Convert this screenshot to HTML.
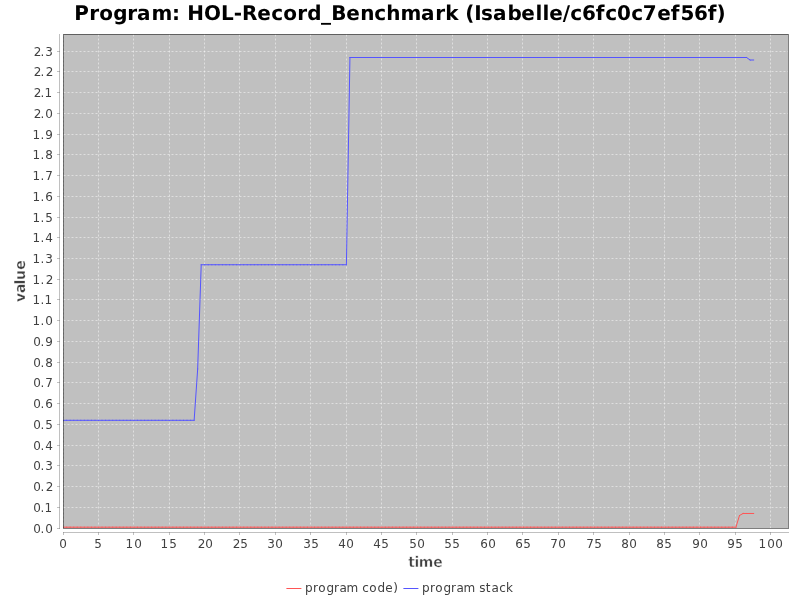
<!DOCTYPE html>
<html><head><meta charset="utf-8"><title>Program: HOL-Record_Benchmark</title>
<style>
html,body{margin:0;padding:0;background:#fff;}
body{width:800px;height:600px;overflow:hidden;}
svg{display:block;}
text{font-family:"DejaVu Sans","Liberation Sans",sans-serif;font-kerning:none;white-space:pre;}
</style></head><body>
<svg width="800" height="600" viewBox="0 0 800 600">
<rect width="800" height="600" fill="#fff"/>
<defs><clipPath id="da"><rect x="63.1" y="34.02" width="724.92" height="494.03"/></clipPath></defs>
<text transform="translate(74,20) scale(1,1.015)" x="0.16 15.26 25.13 39.23 53.26 63.11 77.54 98 106.02 113.13 130 146.98 159.85 168.08 183.27 197.31 209.13 223.26 233.23 247 257.16 272.27 286.32 300.31 312.32 326.54 347.11 361.26 371.32 384.02 391.37 400.28 407 419.11 433.45 447.27 461.57 468.57 475.27 488.85 496.31 507.96 521.87 531.31 543.04 557.31 568.67 583.27 596.87 606.47 619.96 633.87 642.49" y="0" font-weight="bold" font-size="20" fill="#000" text-rendering="geometricPrecision">Program: HOL-Record_Benchmark (Isabelle/c6fc0c7ef56f)</text>
<rect x="63.1" y="34.02" width="724.92" height="494.03" fill="#c0c0c0"/>
<g stroke="#808080" stroke-width="0.5" stroke-linecap="square" fill="none">
<line x1="59.5" y1="34.5" x2="59.5" y2="528.5"/>
<line x1="63.5" y1="532.5" x2="788.5" y2="532.5"/>
<line x1="63.5" y1="532.5" x2="63.5" y2="534.5"/>
<line x1="98.5" y1="532.5" x2="98.5" y2="534.5"/>
<line x1="133.5" y1="532.5" x2="133.5" y2="534.5"/>
<line x1="169.5" y1="532.5" x2="169.5" y2="534.5"/>
<line x1="204.5" y1="532.5" x2="204.5" y2="534.5"/>
<line x1="239.5" y1="532.5" x2="239.5" y2="534.5"/>
<line x1="275.5" y1="532.5" x2="275.5" y2="534.5"/>
<line x1="310.5" y1="532.5" x2="310.5" y2="534.5"/>
<line x1="346.5" y1="532.5" x2="346.5" y2="534.5"/>
<line x1="381.5" y1="532.5" x2="381.5" y2="534.5"/>
<line x1="416.5" y1="532.5" x2="416.5" y2="534.5"/>
<line x1="452.5" y1="532.5" x2="452.5" y2="534.5"/>
<line x1="487.5" y1="532.5" x2="487.5" y2="534.5"/>
<line x1="522.5" y1="532.5" x2="522.5" y2="534.5"/>
<line x1="558.5" y1="532.5" x2="558.5" y2="534.5"/>
<line x1="593.5" y1="532.5" x2="593.5" y2="534.5"/>
<line x1="629.5" y1="532.5" x2="629.5" y2="534.5"/>
<line x1="664.5" y1="532.5" x2="664.5" y2="534.5"/>
<line x1="699.5" y1="532.5" x2="699.5" y2="534.5"/>
<line x1="735.5" y1="532.5" x2="735.5" y2="534.5"/>
<line x1="770.5" y1="532.5" x2="770.5" y2="534.5"/>
<line x1="57.5" y1="528.5" x2="59.5" y2="528.5"/>
<line x1="57.5" y1="507.5" x2="59.5" y2="507.5"/>
<line x1="57.5" y1="486.5" x2="59.5" y2="486.5"/>
<line x1="57.5" y1="465.5" x2="59.5" y2="465.5"/>
<line x1="57.5" y1="445.5" x2="59.5" y2="445.5"/>
<line x1="57.5" y1="424.5" x2="59.5" y2="424.5"/>
<line x1="57.5" y1="403.5" x2="59.5" y2="403.5"/>
<line x1="57.5" y1="382.5" x2="59.5" y2="382.5"/>
<line x1="57.5" y1="362.5" x2="59.5" y2="362.5"/>
<line x1="57.5" y1="341.5" x2="59.5" y2="341.5"/>
<line x1="57.5" y1="320.5" x2="59.5" y2="320.5"/>
<line x1="57.5" y1="299.5" x2="59.5" y2="299.5"/>
<line x1="57.5" y1="279.5" x2="59.5" y2="279.5"/>
<line x1="57.5" y1="258.5" x2="59.5" y2="258.5"/>
<line x1="57.5" y1="237.5" x2="59.5" y2="237.5"/>
<line x1="57.5" y1="217.5" x2="59.5" y2="217.5"/>
<line x1="57.5" y1="196.5" x2="59.5" y2="196.5"/>
<line x1="57.5" y1="175.5" x2="59.5" y2="175.5"/>
<line x1="57.5" y1="154.5" x2="59.5" y2="154.5"/>
<line x1="57.5" y1="134.5" x2="59.5" y2="134.5"/>
<line x1="57.5" y1="113.5" x2="59.5" y2="113.5"/>
<line x1="57.5" y1="92.5" x2="59.5" y2="92.5"/>
<line x1="57.5" y1="71.5" x2="59.5" y2="71.5"/>
<line x1="57.5" y1="51.5" x2="59.5" y2="51.5"/>
</g>
<g clip-path="url(#da)">
<g stroke="#fff" stroke-width="0.5" stroke-dasharray="2,2" fill="none">
<line x1="63.5" y1="34.5" x2="63.5" y2="528.5"/>
<line x1="98.5" y1="34.5" x2="98.5" y2="528.5"/>
<line x1="133.5" y1="34.5" x2="133.5" y2="528.5"/>
<line x1="169.5" y1="34.5" x2="169.5" y2="528.5"/>
<line x1="204.5" y1="34.5" x2="204.5" y2="528.5"/>
<line x1="239.5" y1="34.5" x2="239.5" y2="528.5"/>
<line x1="275.5" y1="34.5" x2="275.5" y2="528.5"/>
<line x1="310.5" y1="34.5" x2="310.5" y2="528.5"/>
<line x1="346.5" y1="34.5" x2="346.5" y2="528.5"/>
<line x1="381.5" y1="34.5" x2="381.5" y2="528.5"/>
<line x1="416.5" y1="34.5" x2="416.5" y2="528.5"/>
<line x1="452.5" y1="34.5" x2="452.5" y2="528.5"/>
<line x1="487.5" y1="34.5" x2="487.5" y2="528.5"/>
<line x1="522.5" y1="34.5" x2="522.5" y2="528.5"/>
<line x1="558.5" y1="34.5" x2="558.5" y2="528.5"/>
<line x1="593.5" y1="34.5" x2="593.5" y2="528.5"/>
<line x1="629.5" y1="34.5" x2="629.5" y2="528.5"/>
<line x1="664.5" y1="34.5" x2="664.5" y2="528.5"/>
<line x1="699.5" y1="34.5" x2="699.5" y2="528.5"/>
<line x1="735.5" y1="34.5" x2="735.5" y2="528.5"/>
<line x1="770.5" y1="34.5" x2="770.5" y2="528.5"/>
<line x1="63.5" y1="528.5" x2="788.5" y2="528.5"/>
<line x1="63.5" y1="507.5" x2="788.5" y2="507.5"/>
<line x1="63.5" y1="486.5" x2="788.5" y2="486.5"/>
<line x1="63.5" y1="465.5" x2="788.5" y2="465.5"/>
<line x1="63.5" y1="445.5" x2="788.5" y2="445.5"/>
<line x1="63.5" y1="424.5" x2="788.5" y2="424.5"/>
<line x1="63.5" y1="403.5" x2="788.5" y2="403.5"/>
<line x1="63.5" y1="382.5" x2="788.5" y2="382.5"/>
<line x1="63.5" y1="362.5" x2="788.5" y2="362.5"/>
<line x1="63.5" y1="341.5" x2="788.5" y2="341.5"/>
<line x1="63.5" y1="320.5" x2="788.5" y2="320.5"/>
<line x1="63.5" y1="299.5" x2="788.5" y2="299.5"/>
<line x1="63.5" y1="279.5" x2="788.5" y2="279.5"/>
<line x1="63.5" y1="258.5" x2="788.5" y2="258.5"/>
<line x1="63.5" y1="237.5" x2="788.5" y2="237.5"/>
<line x1="63.5" y1="217.5" x2="788.5" y2="217.5"/>
<line x1="63.5" y1="196.5" x2="788.5" y2="196.5"/>
<line x1="63.5" y1="175.5" x2="788.5" y2="175.5"/>
<line x1="63.5" y1="154.5" x2="788.5" y2="154.5"/>
<line x1="63.5" y1="134.5" x2="788.5" y2="134.5"/>
<line x1="63.5" y1="113.5" x2="788.5" y2="113.5"/>
<line x1="63.5" y1="92.5" x2="788.5" y2="92.5"/>
<line x1="63.5" y1="71.5" x2="788.5" y2="71.5"/>
<line x1="63.5" y1="51.5" x2="788.5" y2="51.5"/>
</g>
<path stroke="#ff5555" stroke-width="1" stroke-linecap="square" fill="none" d="M63.1 527.2L66.64 527.2M66.64 527.2L70.18 527.2M70.18 527.2L73.72 527.2M73.72 527.2L77.26 527.2M77.26 527.2L80.81 527.2M80.81 527.2L84.35 527.2M84.35 527.2L87.89 527.2M87.89 527.2L91.43 527.2M91.43 527.2L94.97 527.2M94.97 527.2L98.51 527.2M98.51 527.2L102.05 527.2M102.05 527.2L105.59 527.2M105.59 527.2L109.14 527.2M109.14 527.2L112.68 527.2M112.68 527.2L116.22 527.2M116.22 527.2L119.76 527.2M119.76 527.2L123.3 527.2M123.3 527.2L126.84 527.2M126.84 527.2L130.38 527.2M130.38 527.2L133.92 527.2M133.92 527.2L137.47 527.2M137.47 527.2L141.01 527.2M141.01 527.2L144.55 527.2M144.55 527.2L148.09 527.2M148.09 527.2L151.63 527.2M151.63 527.2L155.17 527.2M155.17 527.2L158.71 527.2M158.71 527.2L162.25 527.2M162.25 527.2L165.8 527.2M165.8 527.2L169.34 527.2M169.34 527.2L172.88 527.2M172.88 527.2L176.42 527.2M176.42 527.2L179.96 527.2M179.96 527.2L183.5 527.2M183.5 527.2L187.04 527.2M187.04 527.2L190.58 527.2M190.58 527.2L194.13 527.2M194.13 527.2L197.67 527.2M197.67 527.2L201.21 527.2M201.21 527.2L204.75 527.2M204.75 527.2L208.29 527.2M208.29 527.2L211.83 527.2M211.83 527.2L215.37 527.2M215.37 527.2L218.91 527.2M218.91 527.2L222.46 527.2M222.46 527.2L226 527.2M226 527.2L229.54 527.2M229.54 527.2L233.08 527.2M233.08 527.2L236.62 527.2M236.62 527.2L240.16 527.2M240.16 527.2L243.7 527.2M243.7 527.2L247.24 527.2M247.24 527.2L250.79 527.2M250.79 527.2L254.33 527.2M254.33 527.2L257.87 527.2M257.87 527.2L261.41 527.2M261.41 527.2L264.95 527.2M264.95 527.2L268.49 527.2M268.49 527.2L272.03 527.2M272.03 527.2L275.57 527.2M275.57 527.2L279.12 527.2M279.12 527.2L282.66 527.2M282.66 527.2L286.2 527.2M286.2 527.2L289.74 527.2M289.74 527.2L293.28 527.2M293.28 527.2L296.82 527.2M296.82 527.2L300.36 527.2M300.36 527.2L303.9 527.2M303.9 527.2L307.45 527.2M307.45 527.2L310.99 527.2M310.99 527.2L314.53 527.2M314.53 527.2L318.07 527.2M318.07 527.2L321.61 527.2M321.61 527.2L325.15 527.2M325.15 527.2L328.69 527.2M328.69 527.2L332.23 527.2M332.23 527.2L335.78 527.2M335.78 527.2L339.32 527.2M339.32 527.2L342.86 527.2M342.86 527.2L346.4 527.2M346.4 527.2L349.94 527.2M349.94 527.2L353.48 527.2M353.48 527.2L357.02 527.2M357.02 527.2L360.56 527.2M360.56 527.2L364.11 527.2M364.11 527.2L367.65 527.2M367.65 527.2L371.19 527.2M371.19 527.2L374.73 527.2M374.73 527.2L378.27 527.2M378.27 527.2L381.81 527.2M381.81 527.2L385.35 527.2M385.35 527.2L388.89 527.2M388.89 527.2L392.44 527.2M392.44 527.2L395.98 527.2M395.98 527.2L399.52 527.2M399.52 527.2L403.06 527.2M403.06 527.2L406.6 527.2M406.6 527.2L410.14 527.2M410.14 527.2L413.68 527.2M413.68 527.2L417.22 527.2M417.22 527.2L420.77 527.2M420.77 527.2L424.31 527.2M424.31 527.2L427.85 527.2M427.85 527.2L431.39 527.2M431.39 527.2L434.93 527.2M434.93 527.2L438.47 527.2M438.47 527.2L442.01 527.2M442.01 527.2L445.55 527.2M445.55 527.2L449.1 527.2M449.1 527.2L452.64 527.2M452.64 527.2L456.18 527.2M456.18 527.2L459.72 527.2M459.72 527.2L463.26 527.2M463.26 527.2L466.8 527.2M466.8 527.2L470.34 527.2M470.34 527.2L473.88 527.2M473.88 527.2L477.43 527.2M477.43 527.2L480.97 527.2M480.97 527.2L484.51 527.2M484.51 527.2L488.05 527.2M488.05 527.2L491.59 527.2M491.59 527.2L495.13 527.2M495.13 527.2L498.67 527.2M498.67 527.2L502.21 527.2M502.21 527.2L505.76 527.2M505.76 527.2L509.3 527.2M509.3 527.2L512.84 527.2M512.84 527.2L516.38 527.2M516.38 527.2L519.92 527.2M519.92 527.2L523.46 527.2M523.46 527.2L527 527.2M527 527.2L530.54 527.2M530.54 527.2L534.09 527.2M534.09 527.2L537.63 527.2M537.63 527.2L541.17 527.2M541.17 527.2L544.71 527.2M544.71 527.2L548.25 527.2M548.25 527.2L551.79 527.2M551.79 527.2L555.33 527.2M555.33 527.2L558.87 527.2M558.87 527.2L562.42 527.2M562.42 527.2L565.96 527.2M565.96 527.2L569.5 527.2M569.5 527.2L573.04 527.2M573.04 527.2L576.58 527.2M576.58 527.2L580.12 527.2M580.12 527.2L583.66 527.2M583.66 527.2L587.2 527.2M587.2 527.2L590.75 527.2M590.75 527.2L594.29 527.2M594.29 527.2L597.83 527.2M597.83 527.2L601.37 527.2M601.37 527.2L604.91 527.2M604.91 527.2L608.45 527.2M608.45 527.2L611.99 527.2M611.99 527.2L615.53 527.2M615.53 527.2L619.08 527.2M619.08 527.2L622.62 527.2M622.62 527.2L626.16 527.2M626.16 527.2L629.7 527.2M629.7 527.2L633.24 527.2M633.24 527.2L636.78 527.2M636.78 527.2L640.32 527.2M640.32 527.2L643.86 527.2M643.86 527.2L647.41 527.2M647.41 527.2L650.95 527.2M650.95 527.2L654.49 527.2M654.49 527.2L658.03 527.2M658.03 527.2L661.57 527.2M661.57 527.2L665.11 527.2M665.11 527.2L668.65 527.2M668.65 527.2L672.19 527.2M672.19 527.2L675.74 527.2M675.74 527.2L679.28 527.2M679.28 527.2L682.82 527.2M682.82 527.2L686.36 527.2M686.36 527.2L689.9 527.2M689.9 527.2L693.44 527.2M693.44 527.2L696.98 527.2M696.98 527.2L700.52 527.2M700.52 527.2L704.07 527.2M704.07 527.2L707.61 527.2M707.61 527.2L711.15 527.2M711.15 527.2L714.69 527.2M714.69 527.2L718.23 527.2M718.23 527.2L721.77 527.2M721.77 527.2L725.31 527.2M725.31 527.2L728.85 527.2M728.85 527.2L732.4 527.2M732.4 527.2L735.94 527.2M735.94 527.2L739.48 515.51M739.48 515.51L743.02 513.49M743.02 513.49L746.56 513.49M746.56 513.49L750.1 513.49M750.1 513.49L753.64 513.49"/>
<path stroke="#5555ff" stroke-width="1" stroke-linecap="square" fill="none" d="M63.1 420.31L66.64 420.31M66.64 420.31L70.18 420.31M70.18 420.31L73.72 420.31M73.72 420.31L77.26 420.31M77.26 420.31L80.81 420.31M80.81 420.31L84.35 420.31M84.35 420.31L87.89 420.31M87.89 420.31L91.43 420.31M91.43 420.31L94.97 420.31M94.97 420.31L98.51 420.31M98.51 420.31L102.05 420.31M102.05 420.31L105.59 420.31M105.59 420.31L109.14 420.31M109.14 420.31L112.68 420.31M112.68 420.31L116.22 420.31M116.22 420.31L119.76 420.31M119.76 420.31L123.3 420.31M123.3 420.31L126.84 420.31M126.84 420.31L130.38 420.31M130.38 420.31L133.92 420.31M133.92 420.31L137.47 420.31M137.47 420.31L141.01 420.31M141.01 420.31L144.55 420.31M144.55 420.31L148.09 420.31M148.09 420.31L151.63 420.31M151.63 420.31L155.17 420.31M155.17 420.31L158.71 420.31M158.71 420.31L162.25 420.31M162.25 420.31L165.8 420.31M165.8 420.31L169.34 420.31M169.34 420.31L172.88 420.31M172.88 420.31L176.42 420.31M176.42 420.31L179.96 420.31M179.96 420.31L183.5 420.31M183.5 420.31L187.04 420.31M187.04 420.31L190.58 420.31M190.58 420.31L194.13 420.31M194.13 420.31L197.67 369.01M197.67 369.01L201.21 264.76M201.21 264.76L204.75 264.76M204.75 264.76L208.29 264.76M208.29 264.76L211.83 264.76M211.83 264.76L215.37 264.76M215.37 264.76L218.91 264.76M218.91 264.76L222.46 264.76M222.46 264.76L226 264.76M226 264.76L229.54 264.76M229.54 264.76L233.08 264.76M233.08 264.76L236.62 264.76M236.62 264.76L240.16 264.76M240.16 264.76L243.7 264.76M243.7 264.76L247.24 264.76M247.24 264.76L250.79 264.76M250.79 264.76L254.33 264.76M254.33 264.76L257.87 264.76M257.87 264.76L261.41 264.76M261.41 264.76L264.95 264.76M264.95 264.76L268.49 264.76M268.49 264.76L272.03 264.76M272.03 264.76L275.57 264.76M275.57 264.76L279.12 264.76M279.12 264.76L282.66 264.76M282.66 264.76L286.2 264.76M286.2 264.76L289.74 264.76M289.74 264.76L293.28 264.76M293.28 264.76L296.82 264.76M296.82 264.76L300.36 264.76M300.36 264.76L303.9 264.76M303.9 264.76L307.45 264.76M307.45 264.76L310.99 264.76M310.99 264.76L314.53 264.76M314.53 264.76L318.07 264.76M318.07 264.76L321.61 264.76M321.61 264.76L325.15 264.76M325.15 264.76L328.69 264.76M328.69 264.76L332.23 264.76M332.23 264.76L335.78 264.76M335.78 264.76L339.32 264.76M339.32 264.76L342.86 264.76M342.86 264.76L346.4 264.76M346.4 264.76L349.94 57.51M349.94 57.51L353.48 57.51M353.48 57.51L357.02 57.51M357.02 57.51L360.56 57.51M360.56 57.51L364.11 57.51M364.11 57.51L367.65 57.51M367.65 57.51L371.19 57.51M371.19 57.51L374.73 57.51M374.73 57.51L378.27 57.51M378.27 57.51L381.81 57.51M381.81 57.51L385.35 57.51M385.35 57.51L388.89 57.51M388.89 57.51L392.44 57.51M392.44 57.51L395.98 57.51M395.98 57.51L399.52 57.51M399.52 57.51L403.06 57.51M403.06 57.51L406.6 57.51M406.6 57.51L410.14 57.51M410.14 57.51L413.68 57.51M413.68 57.51L417.22 57.51M417.22 57.51L420.77 57.51M420.77 57.51L424.31 57.51M424.31 57.51L427.85 57.51M427.85 57.51L431.39 57.51M431.39 57.51L434.93 57.51M434.93 57.51L438.47 57.51M438.47 57.51L442.01 57.51M442.01 57.51L445.55 57.51M445.55 57.51L449.1 57.51M449.1 57.51L452.64 57.51M452.64 57.51L456.18 57.51M456.18 57.51L459.72 57.51M459.72 57.51L463.26 57.51M463.26 57.51L466.8 57.51M466.8 57.51L470.34 57.51M470.34 57.51L473.88 57.51M473.88 57.51L477.43 57.51M477.43 57.51L480.97 57.51M480.97 57.51L484.51 57.51M484.51 57.51L488.05 57.51M488.05 57.51L491.59 57.51M491.59 57.51L495.13 57.51M495.13 57.51L498.67 57.51M498.67 57.51L502.21 57.51M502.21 57.51L505.76 57.51M505.76 57.51L509.3 57.51M509.3 57.51L512.84 57.51M512.84 57.51L516.38 57.51M516.38 57.51L519.92 57.51M519.92 57.51L523.46 57.51M523.46 57.51L527 57.51M527 57.51L530.54 57.51M530.54 57.51L534.09 57.51M534.09 57.51L537.63 57.51M537.63 57.51L541.17 57.51M541.17 57.51L544.71 57.51M544.71 57.51L548.25 57.51M548.25 57.51L551.79 57.51M551.79 57.51L555.33 57.51M555.33 57.51L558.87 57.51M558.87 57.51L562.42 57.51M562.42 57.51L565.96 57.51M565.96 57.51L569.5 57.51M569.5 57.51L573.04 57.51M573.04 57.51L576.58 57.51M576.58 57.51L580.12 57.51M580.12 57.51L583.66 57.51M583.66 57.51L587.2 57.51M587.2 57.51L590.75 57.51M590.75 57.51L594.29 57.51M594.29 57.51L597.83 57.51M597.83 57.51L601.37 57.51M601.37 57.51L604.91 57.51M604.91 57.51L608.45 57.51M608.45 57.51L611.99 57.51M611.99 57.51L615.53 57.51M615.53 57.51L619.08 57.51M619.08 57.51L622.62 57.51M622.62 57.51L626.16 57.51M626.16 57.51L629.7 57.51M629.7 57.51L633.24 57.51M633.24 57.51L636.78 57.51M636.78 57.51L640.32 57.51M640.32 57.51L643.86 57.51M643.86 57.51L647.41 57.51M647.41 57.51L650.95 57.51M650.95 57.51L654.49 57.51M654.49 57.51L658.03 57.51M658.03 57.51L661.57 57.51M661.57 57.51L665.11 57.51M665.11 57.51L668.65 57.51M668.65 57.51L672.19 57.51M672.19 57.51L675.74 57.51M675.74 57.51L679.28 57.51M679.28 57.51L682.82 57.51M682.82 57.51L686.36 57.51M686.36 57.51L689.9 57.51M689.9 57.51L693.44 57.51M693.44 57.51L696.98 57.51M696.98 57.51L700.52 57.51M700.52 57.51L704.07 57.51M704.07 57.51L707.61 57.51M707.61 57.51L711.15 57.51M711.15 57.51L714.69 57.51M714.69 57.51L718.23 57.51M718.23 57.51L721.77 57.51M721.77 57.51L725.31 57.51M725.31 57.51L728.85 57.51M728.85 57.51L732.4 57.51M732.4 57.51L735.94 57.51M735.94 57.51L739.48 57.51M739.48 57.51L743.02 57.51M743.02 57.51L746.56 57.51M746.56 57.51L750.1 60M750.1 60L753.64 60"/>
</g>
<path d="M63 34H789V529H63ZM64 35V528H788V35Z" fill="#000" fill-opacity="0.5" shape-rendering="crispEdges"/>
<text transform="translate(59,548) scale(1,1.03)" x="0.19" y="0" font-size="12" fill="#404040">0</text>
<text transform="translate(94,548) scale(1,1.03)" x="0.24" y="0" font-size="12" fill="#404040">5</text>
<text transform="translate(126,548) scale(1,1.03)" x="-0.42 8.19" y="0" font-size="12" fill="#404040">10</text>
<text transform="translate(161,548) scale(1,1.03)" x="-0.42 8.24" y="0" font-size="12" fill="#404040">15</text>
<text transform="translate(197,548) scale(1,1.03)" x="0.84 8.19" y="0" font-size="12" fill="#404040">20</text>
<text transform="translate(232,548) scale(1,1.03)" x="0.84 8.24" y="0" font-size="12" fill="#404040">25</text>
<text transform="translate(267,548) scale(1,1.03)" x="0.21 8.19" y="0" font-size="12" fill="#404040">30</text>
<text transform="translate(303,548) scale(1,1.03)" x="0.21 8.24" y="0" font-size="12" fill="#404040">35</text>
<text transform="translate(338,548) scale(1,1.03)" x="0.23 8.19" y="0" font-size="12" fill="#404040">40</text>
<text transform="translate(373,548) scale(1,1.03)" x="0.23 8.24" y="0" font-size="12" fill="#404040">45</text>
<text transform="translate(409,548) scale(1,1.03)" x="0.24 8.19" y="0" font-size="12" fill="#404040">50</text>
<text transform="translate(444,548) scale(1,1.03)" x="0.24 8.24" y="0" font-size="12" fill="#404040">55</text>
<text transform="translate(480,548) scale(1,1.03)" x="0.14 8.19" y="0" font-size="12" fill="#404040">60</text>
<text transform="translate(515,548) scale(1,1.03)" x="0.14 8.24" y="0" font-size="12" fill="#404040">65</text>
<text transform="translate(550,548) scale(1,1.03)" x="0.2 8.19" y="0" font-size="12" fill="#404040">70</text>
<text transform="translate(586,548) scale(1,1.03)" x="0.2 8.24" y="0" font-size="12" fill="#404040">75</text>
<text transform="translate(621,548) scale(1,1.03)" x="0.19 8.19" y="0" font-size="12" fill="#404040">80</text>
<text transform="translate(656,548) scale(1,1.03)" x="0.19 8.24" y="0" font-size="12" fill="#404040">85</text>
<text transform="translate(692,548) scale(1,1.03)" x="0.23 8.19" y="0" font-size="12" fill="#404040">90</text>
<text transform="translate(727,548) scale(1,1.03)" x="0.23 8.24" y="0" font-size="12" fill="#404040">95</text>
<text transform="translate(759,548) scale(1,1.03)" x="-0.42 8.19 16.19" y="0" font-size="12" fill="#404040">100</text>
<text transform="translate(33,533) scale(1,1.03)" x="0.19 7.6 12.19" y="0" font-size="12" fill="#404040">0.0</text>
<text transform="translate(33,512) scale(1,1.03)" x="0.19 7.6 11.58" y="0" font-size="12" fill="#404040">0.1</text>
<text transform="translate(33,491) scale(1,1.03)" x="0.19 7.6 12.84" y="0" font-size="12" fill="#404040">0.2</text>
<text transform="translate(33,470) scale(1,1.03)" x="0.19 7.6 12.21" y="0" font-size="12" fill="#404040">0.3</text>
<text transform="translate(33,450) scale(1,1.03)" x="0.19 7.6 12.23" y="0" font-size="12" fill="#404040">0.4</text>
<text transform="translate(33,429) scale(1,1.03)" x="0.19 7.6 12.24" y="0" font-size="12" fill="#404040">0.5</text>
<text transform="translate(33,408) scale(1,1.03)" x="0.19 7.6 12.14" y="0" font-size="12" fill="#404040">0.6</text>
<text transform="translate(33,387) scale(1,1.03)" x="0.19 7.6 12.2" y="0" font-size="12" fill="#404040">0.7</text>
<text transform="translate(33,367) scale(1,1.03)" x="0.19 7.6 12.19" y="0" font-size="12" fill="#404040">0.8</text>
<text transform="translate(33,346) scale(1,1.03)" x="0.19 7.6 12.23" y="0" font-size="12" fill="#404040">0.9</text>
<text transform="translate(33,325) scale(1,1.03)" x="-0.42 7.6 12.19" y="0" font-size="12" fill="#404040">1.0</text>
<text transform="translate(33,304) scale(1,1.03)" x="-0.42 7.6 11.58" y="0" font-size="12" fill="#404040">1.1</text>
<text transform="translate(33,284) scale(1,1.03)" x="-0.42 7.6 12.84" y="0" font-size="12" fill="#404040">1.2</text>
<text transform="translate(33,263) scale(1,1.03)" x="-0.42 7.6 12.21" y="0" font-size="12" fill="#404040">1.3</text>
<text transform="translate(33,242) scale(1,1.03)" x="-0.42 7.6 12.23" y="0" font-size="12" fill="#404040">1.4</text>
<text transform="translate(33,222) scale(1,1.03)" x="-0.42 7.6 12.24" y="0" font-size="12" fill="#404040">1.5</text>
<text transform="translate(33,201) scale(1,1.03)" x="-0.42 7.6 12.14" y="0" font-size="12" fill="#404040">1.6</text>
<text transform="translate(33,180) scale(1,1.03)" x="-0.42 7.6 12.2" y="0" font-size="12" fill="#404040">1.7</text>
<text transform="translate(33,159) scale(1,1.03)" x="-0.42 7.6 12.19" y="0" font-size="12" fill="#404040">1.8</text>
<text transform="translate(33,139) scale(1,1.03)" x="-0.42 7.6 12.23" y="0" font-size="12" fill="#404040">1.9</text>
<text transform="translate(33,118) scale(1,1.03)" x="0.84 7.6 12.19" y="0" font-size="12" fill="#404040">2.0</text>
<text transform="translate(33,97) scale(1,1.03)" x="0.84 7.6 11.58" y="0" font-size="12" fill="#404040">2.1</text>
<text transform="translate(33,76) scale(1,1.03)" x="0.84 7.6 12.84" y="0" font-size="12" fill="#404040">2.2</text>
<text transform="translate(33,56) scale(1,1.03)" x="0.84 7.6 12.21" y="0" font-size="12" fill="#404040">2.3</text>
<text transform="translate(409,567) scale(1,1.05)" x="-0.78 5.6 9.68 24.29" y="0" font-weight="bold" font-size="14" fill="#404040" stroke="#fff" stroke-width="0.45" text-rendering="geometricPrecision">time</text>
<text transform="translate(25,302) rotate(-90) scale(1,1.03)" x="-0.07 9.03 17.6 22.06 32.29" y="0" font-weight="bold" font-size="14" fill="#404040" stroke="#fff" stroke-width="0.3" text-rendering="geometricPrecision">value</text>
<line x1="286.9" y1="588.5" x2="300.9" y2="588.5" stroke="#ff5555" stroke-width="1" stroke-linecap="square"/>
<text transform="translate(305,592)" x="-0.03 7.99 13.33 21.41 28.99 34.51 41.62 53.09 57.24 64.33 72.41 80.3 88.19" y="0" font-size="12" fill="#404040">program code)</text>
<line x1="403.9" y1="588.5" x2="417.9" y2="588.5" stroke="#5555ff" stroke-width="1" stroke-linecap="square"/>
<text transform="translate(422,592)" x="-0.03 7.99 13.33 21.41 28.99 34.51 41.62 53.09 57.34 63.63 69.51 77.24 84" y="0" font-size="12" fill="#404040">program stack</text>
</svg>
</body></html>
